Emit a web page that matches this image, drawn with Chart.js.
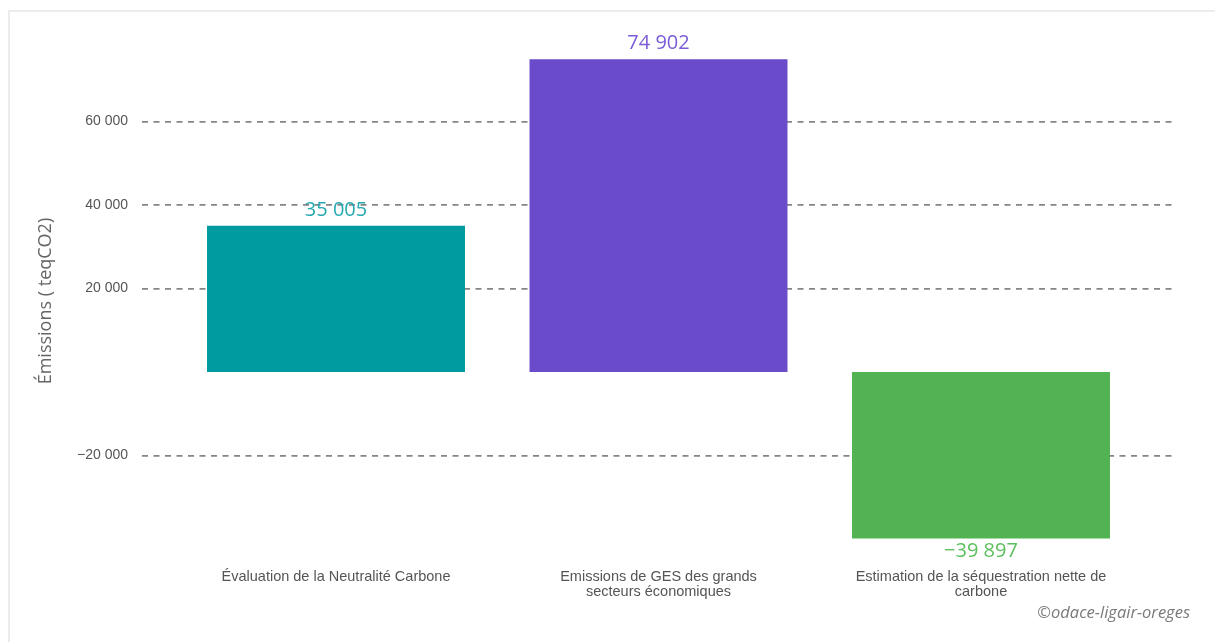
<!DOCTYPE html>
<html lang="fr">
<head>
<meta charset="utf-8">
<script src="https://cdn.jsdelivr.net/npm/chart.js@4"></script>
<style>
  html, body { margin: 0; padding: 0; background: #fff; }
  #wrap { position: relative; width: 1215px; height: 642px; }
  #frame { position: absolute; left: 8px; top: 10px; right: 0; bottom: 0;
           border-top: 2px solid #ececec; border-left: 2px solid #ececec; pointer-events: none; }
  #credit { position: absolute; right: 25px; top: 600px; font: italic 16.5px "Open Sans", sans-serif; color: #7a7a7a; }
</style>
</head>
<body>
<div id="wrap">
  <canvas id="chart" width="1215" height="642"></canvas>
  <div id="frame"></div>
  <div id="credit">©odace-ligair-oreges</div>
</div>
<script>
// ===== Data =====
const categories = [
  ['Évaluation de la Neutralité Carbone'],
  ['Emissions de GES des grands', 'secteurs économiques'],
  ['Estimation de la séquestration nette de', 'carbone']
];
const values = [35005, 74902, -39897];
const yTicks = [-20000, 20000, 40000, 60000];

const barColors   = ['#009ba0', '#6a4ccb', '#52b353'];
const labelColors = ['#27a9b1', '#7a5cd8', '#5dbf5e'];

// ===== Helpers =====
function fmt(v) {
  const s = Math.abs(v).toString().replace(/\B(?=(\d{3})+(?!\d))/g, ' ');
  return (v < 0 ? '\u2212' : '') + s;
}

// valeurs au-dessus / en-dessous des barres
const valueLabels = {
  id: 'valueLabels',
  afterDatasetsDraw(chart) {
    const ctx = chart.ctx;
    const meta = chart.getDatasetMeta(0);
    ctx.save();
    ctx.font = '20px "Open Sans", sans-serif';
    ctx.textAlign = 'center';
    ctx.textBaseline = 'middle';
    meta.data.forEach((bar, i) => {
      const v = values[i];
      ctx.fillStyle = labelColors[i];
      const y = v >= 0 ? bar.y - 16 : bar.y + 13;
      ctx.fillText(fmt(v), bar.x, y);
    });
    ctx.restore();
  }
};

new Chart(document.getElementById('chart').getContext('2d'), {
  type: 'bar',
  data: {
    datasets: [{
      data: values.map((v, i) => ({ x: i, y: v })),
      backgroundColor: barColors,
      borderWidth: 0,
      categoryPercentage: 1,
      barPercentage: 0.8
    }]
  },
  options: {
    responsive: false,
    animation: false,
    layout: { padding: { top: 54.7, right: 40, bottom: 0, left: 0 } },
    plugins: { legend: { display: false }, tooltip: { enabled: false } },
    scales: {
      x: {
        type: 'linear',
        offset: false,
        min: -0.6016,
        max: 2.6016,
        afterBuildTicks: axis => { axis.ticks = categories.map((c, i) => ({ value: i })); },
        afterFit: axis => { axis.height = 94.6; },
        grid: { display: false, drawTicks: false },
        border: { display: false },
        ticks: {
          autoSkip: false, maxRotation: 0, padding: 22,
          color: '#555', font: { family: '"Liberation Sans", Arial, sans-serif', size: 14.5, lineHeight: 1.05 },
          callback: v => categories[v] || ''
        }
      },
      y: {
        min: -42000,
        max: 76000,
        afterBuildTicks: axis => { axis.ticks = yTicks.map(v => ({ value: v })); },
        afterFit: axis => { axis.width = 142; },
        grid: { color: '#858585', lineWidth: 1.8, drawTicks: false },
        border: { display: false, dash: [6, 5.5] },
        ticks: {
          padding: 14, color: '#555',
          font: { family: '"Liberation Sans", Arial, sans-serif', size: 14 },
          callback: v => fmt(v)
        },
        title: {
          display: true, text: 'Émissions ( teqCO2)', color: '#666',
          font: { family: '"Open Sans", sans-serif', size: 18 },
          padding: { top: 35, bottom: 0 }
        }
      }
    }
  },
  plugins: [valueLabels]
});
</script>
</body>
</html>
